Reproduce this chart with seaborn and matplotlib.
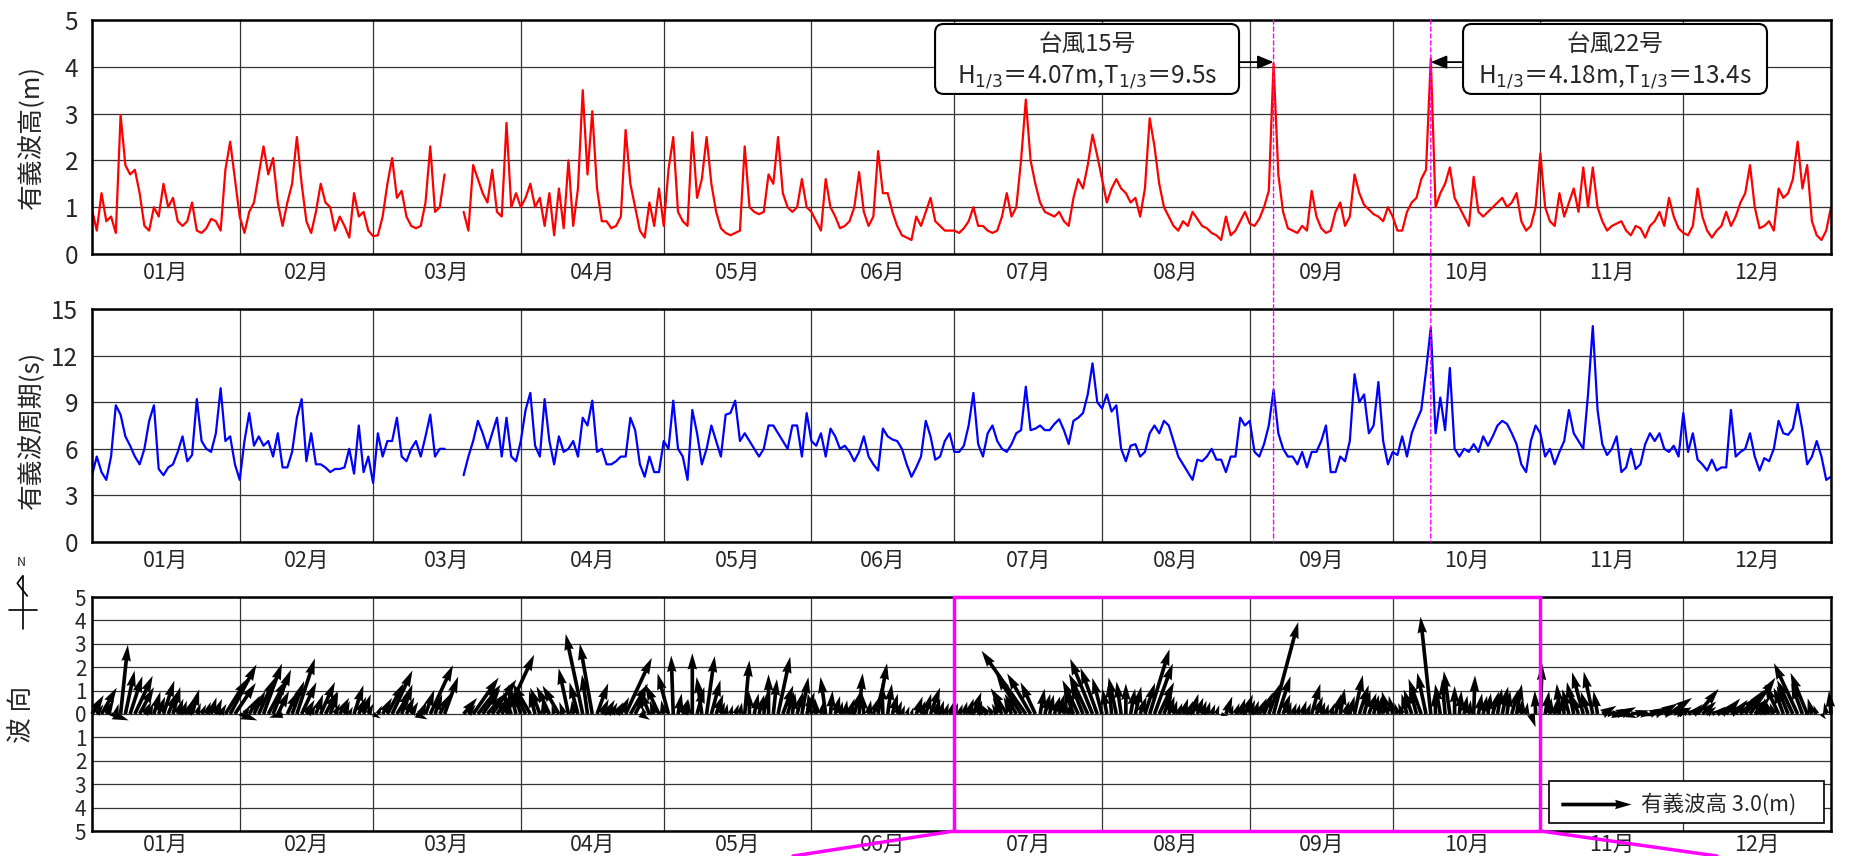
import numpy as np
import pandas as pd
import matplotlib
matplotlib.use('Agg')
import matplotlib.pyplot as plt
import seaborn as sns
from matplotlib.patches import Rectangle, FancyBboxPatch, ConnectionPatch
from matplotlib.lines import Line2D

sns.set_style('white')
plt.rcParams['font.family'] = ['Liberation Sans Narrow', 'Noto Sans CJK JP', 'DejaVu Sans']
plt.rcParams['axes.unicode_minus'] = False
CJK = ['Noto Sans CJK JP', 'DejaVu Sans']

nan = np.nan

# 有義波高 (m), 日ごと (1/1 .. 12/31 24時)
hs = [
    0.95, 0.50, 1.30, 0.70, 0.80, 0.45, 2.97, 1.90, 1.70, 1.80, 1.30, 0.60, 0.50, 1.00, 0.80, 1.50,
    1.00, 1.20, 0.70, 0.60, 0.70, 1.10, 0.50, 0.45, 0.55, 0.75, 0.70, 0.50, 1.80, 2.40, 1.60,  # 01
    0.80, 0.45, 0.90, 1.10, 1.70, 2.30, 1.70, 2.05, 1.10, 0.60, 1.10, 1.50, 2.50, 1.50, 0.70, 0.45,
    0.90, 1.50, 1.10, 1.00, 0.50, 0.80, 0.60, 0.35, 1.30, 0.80, 0.90, 0.50,  # 02
    0.38, 0.40, 0.80, 1.50, 2.05, 1.20, 1.35, 0.80, 0.60, 0.55, 0.60, 1.10, 2.30, 0.90, 1.00, 1.70,
    nan, nan, nan, 0.90, 0.50, 1.90, 1.60, 1.30, 1.10, 1.80, 0.90, 0.80, 2.80, 1.00, 1.30,  # 03
    1.00, 1.20, 1.50, 1.00, 1.20, 0.60, 1.30, 0.40, 1.40, 0.55, 2.00, 0.60, 1.40, 3.50, 1.70, 3.05,
    1.40, 0.70, 0.70, 0.55, 0.60, 0.80, 2.65, 1.50, 1.00, 0.50, 0.35, 1.10, 0.60, 1.40,  # 04
    0.60, 1.80, 2.50, 0.90, 0.70, 0.60, 2.60, 1.20, 1.60, 2.50, 1.50, 0.90, 0.55, 0.45, 0.40, 0.45,
    0.50, 2.30, 1.00, 0.90, 0.85, 0.90, 1.70, 1.50, 2.50, 1.30, 1.00, 0.90, 1.00, 1.60, 1.00,  # 05
    0.90, 0.70, 0.50, 1.60, 1.00, 0.80, 0.55, 0.60, 0.70, 1.00, 1.75, 0.90, 0.60, 0.80, 2.20, 1.30,
    1.30, 0.90, 0.60, 0.40, 0.35, 0.30, 0.80, 0.60, 0.90, 1.20, 0.70, 0.60, 0.50, 0.50,  # 06
    0.50, 0.45, 0.55, 0.70, 1.00, 0.60, 0.60, 0.50, 0.45, 0.50, 0.80, 1.30, 0.80, 1.00, 2.00, 3.30,
    2.00, 1.50, 1.10, 0.90, 0.85, 0.80, 0.90, 0.70, 0.60, 1.20, 1.60, 1.40, 1.90, 2.55, 2.10,  # 07
    1.60, 1.10, 1.40, 1.60, 1.40, 1.30, 1.10, 1.20, 0.80, 1.40, 2.90, 2.30, 1.50, 1.00, 0.80, 0.60,
    0.50, 0.70, 0.60, 0.90, 0.75, 0.60, 0.55, 0.45, 0.40, 0.30, 0.80, 0.40, 0.50, 0.70, 0.90,  # 08
    0.65, 0.60, 0.75, 1.00, 1.35, 4.07, 1.70, 0.90, 0.55, 0.50, 0.45, 0.60, 0.50, 1.35, 0.80, 0.55,
    0.45, 0.50, 0.90, 1.10, 0.60, 0.80, 1.70, 1.30, 1.05, 0.95, 0.85, 0.80, 0.70, 1.00,  # 09
    0.80, 0.50, 0.50, 0.90, 1.10, 1.20, 1.60, 1.80, 4.18, 1.00, 1.30, 1.50, 1.85, 1.20, 1.00, 0.80,
    0.60, 1.65, 0.90, 0.80, 0.90, 1.00, 1.10, 1.20, 1.00, 1.10, 1.30, 0.70, 0.50, 0.60, 1.00,  # 10
    2.15, 1.00, 0.70, 0.60, 1.30, 0.80, 1.10, 1.40, 0.90, 1.85, 1.00, 1.85, 1.00, 0.70, 0.50, 0.60,
    0.65, 0.70, 0.50, 0.40, 0.60, 0.55, 0.35, 0.60, 0.70, 0.90, 0.60, 1.20, 0.80, 0.55,  # 11
    0.45, 0.40, 0.60, 1.40, 0.80, 0.50, 0.35, 0.50, 0.60, 0.90, 0.60, 0.80, 1.10, 1.30, 1.90, 1.00,
    0.55, 0.60, 0.70, 0.50, 1.40, 1.20, 1.30, 1.60, 2.40, 1.40, 1.90, 0.70, 0.40, 0.30, 0.50, 1.00,  # 12
]

# 有義波周期 (s)
tp = [
    4.3, 5.5, 4.5, 4.0, 5.5, 8.8, 8.2, 6.8, 6.2, 5.5, 5.0, 6.0, 7.8, 8.8, 4.7, 4.3,
    4.8, 5.0, 5.8, 6.8, 5.2, 5.6, 9.2, 6.5, 6.0, 5.8, 7.0, 9.9, 6.5, 6.8, 5.0,  # 01
    4.0, 6.5, 8.3, 6.2, 6.8, 6.2, 6.5, 5.5, 7.0, 4.8, 4.8, 5.8, 8.0, 9.2, 5.2, 7.0,
    5.0, 5.0, 4.8, 4.5, 4.7, 4.7, 4.8, 6.0, 4.4, 7.5, 4.5, 5.5,  # 02
    3.8, 7.0, 5.5, 6.5, 6.5, 8.0, 5.5, 5.2, 6.0, 6.5, 5.5, 6.8, 8.2, 5.5, 6.0, 6.0,
    nan, nan, nan, 4.3, 5.5, 6.5, 7.8, 7.0, 6.0, 7.0, 8.0, 5.5, 8.0, 5.5, 5.2,  # 03
    6.5, 8.5, 9.6, 6.2, 5.5, 9.2, 6.5, 5.0, 6.8, 5.8, 6.0, 6.5, 5.5, 8.0, 7.5, 9.1,
    5.8, 6.0, 5.0, 5.0, 5.2, 5.5, 5.5, 8.0, 7.2, 5.0, 4.2, 5.5, 4.5, 4.5,  # 04
    6.5, 6.0, 9.1, 6.0, 5.5, 4.0, 8.5, 7.0, 5.0, 6.0, 7.5, 6.5, 5.5, 8.2, 8.3, 9.1,
    6.5, 7.0, 6.5, 6.0, 5.5, 6.0, 7.5, 7.5, 7.0, 6.5, 6.0, 7.5, 7.5, 5.5, 8.3,  # 05
    6.5, 6.2, 7.0, 5.5, 7.3, 6.8, 6.0, 6.2, 5.8, 5.2, 5.8, 6.8, 5.5, 5.0, 4.6, 7.3,
    6.8, 6.6, 6.5, 6.0, 5.0, 4.2, 4.8, 5.5, 7.8, 6.8, 5.3, 5.5, 6.5, 7.0,  # 06
    5.8, 5.8, 6.2, 7.5, 9.6, 6.3, 5.5, 7.0, 7.5, 6.5, 6.0, 5.8, 6.3, 7.0, 7.2, 10.0,
    7.2, 7.3, 7.5, 7.2, 7.2, 7.6, 7.9, 7.2, 6.3, 7.8, 8.0, 8.3, 9.5, 11.5, 9.0,  # 07
    8.6, 9.5, 8.4, 8.8, 6.0, 5.2, 6.2, 6.3, 5.5, 5.8, 7.0, 7.5, 7.0, 7.8, 7.5, 6.5,
    5.5, 5.0, 4.5, 4.0, 5.3, 5.2, 5.5, 6.0, 5.3, 5.3, 4.5, 5.5, 5.5, 8.0, 7.5,  # 08
    7.8, 5.8, 5.5, 6.3, 7.5, 9.8, 7.0, 6.0, 5.5, 5.5, 5.0, 5.8, 4.8, 5.8, 5.8, 6.5,
    7.5, 4.5, 4.5, 5.5, 5.2, 6.5, 10.8, 9.0, 9.5, 7.0, 7.5, 10.3, 6.5, 5.0,  # 09
    5.8, 5.6, 6.8, 5.5, 7.0, 7.8, 8.5, 11.0, 13.8, 7.0, 9.3, 7.2, 11.2, 6.0, 5.5, 6.0,
    5.8, 6.3, 5.8, 6.8, 6.2, 6.8, 7.5, 7.8, 7.6, 7.0, 6.3, 5.0, 4.5, 6.5, 7.5,  # 10
    7.0, 5.5, 6.0, 5.0, 5.8, 6.5, 8.5, 7.0, 6.5, 6.0, 9.5, 13.9, 8.5, 6.3, 5.6, 6.0,
    6.8, 4.5, 4.8, 6.0, 4.7, 5.0, 6.3, 7.0, 6.5, 7.0, 6.0, 5.8, 6.2, 5.5,  # 11
    8.3, 5.8, 7.0, 5.3, 5.0, 4.6, 5.3, 4.6, 4.8, 4.8, 8.5, 5.5, 5.8, 6.0, 7.0, 5.5,
    4.6, 5.4, 5.2, 6.0, 7.8, 7.0, 6.9, 7.3, 8.9, 7.2, 5.0, 5.5, 6.5, 5.5, 4.0, 4.2,  # 12
]

# 波向 (deg, 来る方向, 北=0 時計回り)
wd = [
    212, 215, 210, 208, 290, 195, 186, 192, 198, 205, 208, 210, 200, 196, 200, 198,
    202, 195, 200, 198, 203, 196, 200, 205, 200, 198, 202, 210, 212, 208, 214,  # 01
    290, 215, 210, 206, 204, 200, 208, 202, 206, 75, 205, 200, 198, 205, 210, 205,
    200, 204, 208, 200, 205, 210, 202, 205, 198, 203, 200, 206,  # 02
    300, 205, 210, 208, 205, 212, 200, 205, 210, 295, 205, 200, 205, 200, 208, 200,
    200, 200, 200, 220, 218, 215, 218, 215, 220, 215, 218, 212, 205, 160, 165,  # 03
    162, 155, 150, 165, 160, 170, 155, 165, 150, 160, 168, 175, 165, 168, 172, 170,
    200, 205, 210, 208, 212, 206, 205, 210, 208, 300, 160, 158, 162, 155,  # 04
    170, 165, 178, 190, 200, 185, 180, 195, 172, 188, 195, 200, 198, 190, 195, 200,
    190, 185, 178, 192, 195, 188, 180, 186, 192, 200, 196, 188, 195, 190, 200,  # 05
    170, 175, 190, 172, 185, 195, 192, 190, 198, 195, 185, 175, 190, 200, 190, 178,
    188, 195, 200, 198, 200, 195, 200, 198, 195, 200, 198, 196, 200, 198,  # 06
    198, 200, 195, 198, 200, 196, 150, 145, 148, 152, 150, 148, 155, 150, 148, 145,
    150, 155, 190, 195, 192, 198, 195, 190, 196, 160, 155, 158, 155, 158, 160,  # 07
    165, 170, 175, 168, 172, 180, 190, 192, 200, 198, 197, 200, 205, 200, 198, 195,
    200, 198, 202, 196, 200, 198, 195, 200, 198, 285, 200, 196, 200, 198, 202,  # 08
    200, 198, 205, 202, 200, 195, 198, 200, 196, 200, 195, 198, 200, 196, 200, 198,
    195, 200, 196, 190, 198, 195, 192, 198, 195, 200, 196, 192, 170, 165,  # 09
    168, 165, 160, 165, 162, 165, 160, 168, 174, 178, 170, 175, 172, 180, 185, 190,
    188, 182, 190, 192, 188, 195, 190, 192, 188, 195, 190, 185, 188, 340, 178,  # 10
    182, 190, 185, 188, 175, 170, 165, 168, 160, 165, 162, 168, 170, 240, 260, 280,
    250, 245, 290, 260, 255, 270, 285, 250, 245, 240, 255, 235, 250, 245,  # 11
    230, 235, 225, 220, 228, 232, 240, 230, 225, 222, 228, 220, 225, 218, 215, 222,
    160, 158, 162, 160, 155, 160, 158, 155, 155, 160, 158, 165, 160, 320, 170, 175,  # 12
]

month_days = [31, 28, 31, 30, 31, 30, 31, 31, 30, 31, 30, 31]
month_labels = ['01月', '02月', '03月', '04月', '05月', '06月',
                '07月', '08月', '09月', '10月', '11月', '12月']

# 台風
ty_day = [248, 281]
ty_name = ['台風15号', '台風22号']
ty_text = ['H$_{1/3}$＝4.07m,T$_{1/3}$＝9.5s', 'H$_{1/3}$＝4.18m,T$_{1/3}$＝13.4s']

assert len(hs) == len(tp) == len(wd) == 366

edges = np.concatenate([[0], np.cumsum(month_days)])
mids = (edges[:-1] + edges[1:]) / 2

df = pd.DataFrame({'day': np.arange(len(hs)), 'hs': hs, 'tp': tp, 'wd': wd})
df['seg'] = df['hs'].isna().cumsum()
ok = df.dropna().copy()
rad = np.deg2rad(ok['wd'] + 180)
ok['u'] = ok['hs'] * np.sin(rad)
ok['v'] = ok['hs'] * np.cos(rad)

fig = plt.figure(figsize=(18.51, 8.56), dpi=100)
L, W = 92 / 1851, 1739 / 1851
ax1 = fig.add_axes([L, 1 - 254 / 856, W, 234 / 856])
ax2 = fig.add_axes([L, 1 - 542 / 856, W, 233 / 856])
ax3 = fig.add_axes([L, 1 - 831 / 856, W, 234 / 856])

sns.lineplot(data=ok, x='day', y='hs', units='seg', estimator=None,
             color='#ff0000', lw=1.6, ax=ax1)
sns.lineplot(data=ok, x='day', y='tp', units='seg', estimator=None,
             color='#0000ff', lw=1.6, ax=ax2)
q = ax3.quiver(ok['day'], np.zeros(len(ok)), ok['u'], ok['v'], angles='uv',
               scale_units='y', scale=1, width=0.0021, headwidth=2.6,
               headlength=4.5, headaxislength=4.2, color='k', zorder=3, clip_on=False)


def style(ax, ylim, yticks, ylabels, fs, ypad, xpad):
    ax.set_xlim(0, 365)
    ax.set_ylim(*ylim)
    ax.set_xticks(edges)
    ax.set_xticklabels([])
    ax.set_xticks(mids, minor=True)
    ax.set_xticklabels(month_labels, minor=True, fontsize=15.5)
    ax.set_yticks(yticks)
    ax.set_yticklabels(ylabels, fontsize=fs)
    ax.tick_params(which='both', length=0)
    ax.tick_params(axis='y', pad=ypad)
    ax.tick_params(axis='x', which='minor', pad=xpad)
    ax.grid(True, which='major', color='#333333', lw=0.9)
    ax.set_axisbelow(True)
    ax.set_xlabel('')
    for s in ax.spines.values():
        s.set_linewidth(1.8)
        s.set_color('k')


style(ax1, (0, 5), range(6), [str(i) for i in range(6)], 17.5, 10, 6)
style(ax2, (0, 15), range(0, 16, 3), [str(i) for i in range(0, 16, 3)], 17.5, 10, 6)
style(ax3, (-5, 5), range(-5, 6), [str(abs(i)) for i in range(-5, 6)], 15, 4, 2)

ax1.set_ylabel('有義波高(m)', fontsize=18.5, family=CJK)
ax2.set_ylabel('有義波周期(s)', fontsize=18.5, family=CJK)
ax3.set_ylabel('波 向', fontsize=18.5, family=CJK)
ax1.yaxis.set_label_coords(-0.027, 0.5)
ax2.yaxis.set_label_coords(-0.027, 0.48)
ax3.yaxis.set_label_coords(-0.033, 0.5)

# 台風の注記
for d, name, txt, x0, xe in zip(ty_day, ty_name, ty_text, [0.4848, 0.7884], [0.6596, 0.7884]):
    ax1.add_patch(FancyBboxPatch((x0, 0.684), 0.1748, 0.299, transform=ax1.transAxes,
                                 boxstyle='round,pad=0,rounding_size=0.005',
                                 mutation_aspect=1739 / 234, fc='white', ec='k',
                                 lw=1.5, zorder=5, clip_on=False))
    ax1.text(x0 + 0.0874, 0.897, name, transform=ax1.transAxes, ha='center',
             va='center', fontsize=17, family=CJK, zorder=6)
    ax1.text(x0 + 0.0874, 0.754, txt, transform=ax1.transAxes, ha='center',
             va='center', fontsize=17.5, family=CJK, zorder=6)
    ax1.annotate('', xy=(d, 4.1), xytext=(xe, 4.1), xycoords='data',
                 textcoords=('axes fraction', 'data'), zorder=6,
                 arrowprops=dict(arrowstyle='-|>,head_length=0.6,head_width=0.25',
                                 color='k', lw=1.3, mutation_scale=16,
                                 shrinkA=0, shrinkB=0))
    fig.add_artist(ConnectionPatch(xyA=(d, 5), coordsA=ax1.transData,
                                   xyB=(d, 0), coordsB=ax2.transData,
                                   color='#ff00ff', lw=1, ls=(0, (3, 2)), zorder=7))

# 拡大範囲 (7月〜10月)
z0, z1 = edges[6], edges[10]
ax3.add_patch(Rectangle((z0, -5), z1 - z0, 10, fill=False, ec='#ff00ff', lw=2.5,
                        zorder=6, clip_on=False))
fig.add_artist(ConnectionPatch(xyA=(z0, -5), coordsA=ax3.transData,
                               xyB=(793 / 1851, 0), coordsB=fig.transFigure,
                               color='#ff00ff', lw=2.5, zorder=7))
fig.add_artist(ConnectionPatch(xyA=(z1, -5), coordsA=ax3.transData,
                               xyB=(1717 / 1851, 0), coordsB=fig.transFigure,
                               color='#ff00ff', lw=2.5, zorder=7))

# 凡例
ax3.add_patch(Rectangle((0.838, 0.034), 0.158, 0.18, transform=ax3.transAxes,
                        fc='white', ec='k', lw=1.2, zorder=5))
qk = ax3.quiverkey(q, 0.885, 0.115, 3.0, '有義波高 3.0(m)', labelpos='E',
                   coordinates='axes', labelsep=0.1,
                   fontproperties={'size': 15.5, 'family': CJK})
qk.set_zorder(6)

# 方位記号
fx = lambda x: x / 1851
fy = lambda y: 1 - y / 856
fig.add_artist(Line2D([fx(22.7), fx(22.7)], [fy(576), fy(629)], color='k', lw=1.2,
                      transform=fig.transFigure))
fig.add_artist(Line2D([fx(9.3), fx(36.7)], [fy(610), fy(610)], color='k', lw=1.2,
                      transform=fig.transFigure))
fig.add_artist(Line2D([fx(22.7), fx(17.3), fx(27.3)], [fy(576), fy(583.3), fy(596)],
                      color='k', lw=1.2, transform=fig.transFigure))
fig.text(fx(21.7), fy(563), 'N', ha='center', va='center', fontsize=9)

fig.savefig('out.png', dpi=100)
